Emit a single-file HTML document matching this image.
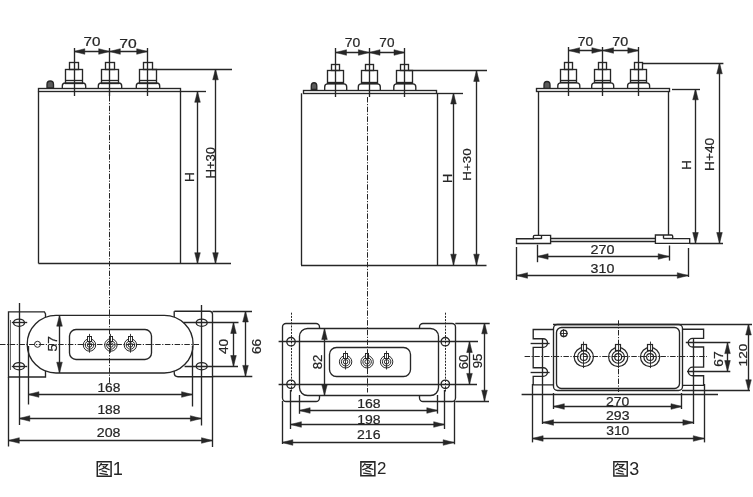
<!DOCTYPE html>
<html><head><meta charset="utf-8"><style>
html,body{margin:0;padding:0;background:#fff;}
svg{display:block;font-family:"Liberation Sans",sans-serif;filter:grayscale(100%);}
text{stroke:#262626;stroke-width:0.22px;} text.big{stroke-width:0;}
</style></head><body>
<svg width="753" height="497" viewBox="0 0 753 497">
<rect width="753" height="497" fill="#fff"/>
<rect x="38.5" y="88.5" width="142" height="3" fill="none" stroke="#262626" stroke-width="1.35"/>
<line x1="38.5" y1="91.6" x2="38.5" y2="263.5" stroke="#262626" stroke-width="1.35"/>
<line x1="180.5" y1="91.6" x2="180.5" y2="263.5" stroke="#262626" stroke-width="1.35"/>
<line x1="38.5" y1="263.5" x2="231" y2="263.5" stroke="#262626" stroke-width="1.35"/>
<rect x="69.5" y="62.5" width="9" height="7" fill="none" stroke="#262626" stroke-width="1.35"/>
<rect x="65.5" y="69.5" width="17" height="14" fill="none" stroke="#262626" stroke-width="1.35"/>
<line x1="65.3" y1="80.5" x2="82.7" y2="80.5" stroke="#262626" stroke-width="1.35"/>
<path d="M62.3,88 L62.3,86 Q62.3,83 65.3,83 L82.7,83 Q85.7,83 85.7,86 L85.7,88" fill="none" stroke="#262626" stroke-width="1.35"/>
<rect x="105.5" y="62.5" width="9" height="7" fill="none" stroke="#262626" stroke-width="1.35"/>
<rect x="101.5" y="69.5" width="17" height="14" fill="none" stroke="#262626" stroke-width="1.35"/>
<line x1="101.3" y1="80.5" x2="118.7" y2="80.5" stroke="#262626" stroke-width="1.35"/>
<path d="M98.3,88 L98.3,86 Q98.3,83 101.3,83 L118.7,83 Q121.7,83 121.7,86 L121.7,88" fill="none" stroke="#262626" stroke-width="1.35"/>
<rect x="143.5" y="62.5" width="9" height="7" fill="none" stroke="#262626" stroke-width="1.35"/>
<rect x="139.5" y="69.5" width="17" height="14" fill="none" stroke="#262626" stroke-width="1.35"/>
<line x1="139.3" y1="80.5" x2="156.7" y2="80.5" stroke="#262626" stroke-width="1.35"/>
<path d="M136.3,88 L136.3,86 Q136.3,83 139.3,83 L156.7,83 Q159.7,83 159.7,86 L159.7,88" fill="none" stroke="#262626" stroke-width="1.35"/>
<path d="M47,88 L47,84.5 A3.25,3.5 0 0 1 53.5,84.5 L53.5,88 Z" fill="#5a5a5a" stroke="#262626" stroke-width="1.35"/>
<line x1="74.5" y1="48" x2="74.5" y2="96" stroke="#262626" stroke-width="1.35"/>
<line x1="109.5" y1="48" x2="109.5" y2="96" stroke="#262626" stroke-width="1.35"/>
<line x1="147.5" y1="48" x2="147.5" y2="96" stroke="#262626" stroke-width="1.35"/>
<line x1="74" y1="51.5" x2="147.5" y2="51.5" stroke="#262626" stroke-width="1.35"/>
<polygon points="74,51.5 84.8,48.7 84.8,54.3" fill="#262626" stroke="#262626" stroke-width="0.5"/>
<polygon points="109.5,51.5 98.7,48.7 98.7,54.3" fill="#262626" stroke="#262626" stroke-width="0.5"/>
<polygon points="109.5,51.5 120.3,48.7 120.3,54.3" fill="#262626" stroke="#262626" stroke-width="0.5"/>
<polygon points="147.5,51.5 136.7,48.7 136.7,54.3" fill="#262626" stroke="#262626" stroke-width="0.5"/>
<line x1="152.5" y1="69.5" x2="232" y2="69.5" stroke="#262626" stroke-width="1.35"/>
<line x1="180.5" y1="91.5" x2="206" y2="91.5" stroke="#262626" stroke-width="1.35"/>
<line x1="197.5" y1="91.5" x2="197.5" y2="263.5" stroke="#262626" stroke-width="1.35"/>
<polygon points="197.5,91.5 194.7,102.3 200.3,102.3" fill="#262626" stroke="#262626" stroke-width="0.5"/>
<polygon points="197.5,263.5 194.7,252.7 200.3,252.7" fill="#262626" stroke="#262626" stroke-width="0.5"/>
<line x1="215.5" y1="69" x2="215.5" y2="263.5" stroke="#262626" stroke-width="1.35"/>
<polygon points="215.5,69 212.7,79.8 218.3,79.8" fill="#262626" stroke="#262626" stroke-width="0.5"/>
<polygon points="215.5,263.5 212.7,252.7 218.3,252.7" fill="#262626" stroke="#262626" stroke-width="0.5"/>
<path d="M8.5,311.8 H44.4 L45.5,314 V377 H8.5 Z" fill="none" stroke="#262626" stroke-width="1.35"/>
<path d="M174.4,311.2 H209.5 Q212.5,311.2 212.5,314.2 V376.7 H178 Q174.2,376.7 174.2,372.5 V311.2" fill="none" stroke="#262626" stroke-width="1.35"/>
<path d="M56,315.4 H164.3 A28.8,28.8 0 0 1 164.3,373 H56 A28.8,28.8 0 0 1 56,315.4 Z" fill="#fff" stroke="#262626" stroke-width="1.35"/>
<rect x="69.5" y="329.5" width="82" height="30" rx="6.5" fill="none" stroke="#262626" stroke-width="1.35"/>
<circle cx="37.5" cy="344.3" r="3" fill="none" stroke="#262626" stroke-width="1.0"/>
<line x1="10.5" y1="320" x2="10.5" y2="370" stroke="#262626" stroke-width="0.7"/>
<circle cx="89.5" cy="345" r="6.2" fill="none" stroke="#262626" stroke-width="1.0"/>
<circle cx="89.5" cy="345" r="4.22" fill="none" stroke="#262626" stroke-width="1.0"/>
<circle cx="89.5" cy="345" r="2.23" fill="none" stroke="#262626" stroke-width="1.0"/>
<rect x="87.5" y="336.5" width="4" height="5" fill="#fff" stroke="#262626" stroke-width="1.0"/>
<line x1="89.5" y1="333.9" x2="89.5" y2="352.7" stroke="#262626" stroke-width="0.9"/>
<circle cx="110.9" cy="345" r="6.2" fill="none" stroke="#262626" stroke-width="1.0"/>
<circle cx="110.9" cy="345" r="4.22" fill="none" stroke="#262626" stroke-width="1.0"/>
<circle cx="110.9" cy="345" r="2.23" fill="none" stroke="#262626" stroke-width="1.0"/>
<rect x="109.5" y="336.5" width="3" height="5" fill="#fff" stroke="#262626" stroke-width="1.0"/>
<line x1="110.5" y1="333.9" x2="110.5" y2="352.7" stroke="#262626" stroke-width="0.9"/>
<circle cx="130.4" cy="345" r="6.2" fill="none" stroke="#262626" stroke-width="1.0"/>
<circle cx="130.4" cy="345" r="4.22" fill="none" stroke="#262626" stroke-width="1.0"/>
<circle cx="130.4" cy="345" r="2.23" fill="none" stroke="#262626" stroke-width="1.0"/>
<rect x="128.5" y="336.5" width="4" height="5" fill="#fff" stroke="#262626" stroke-width="1.0"/>
<line x1="130.5" y1="333.9" x2="130.5" y2="352.7" stroke="#262626" stroke-width="0.9"/>
<ellipse cx="19" cy="322.7" rx="5.5" ry="3.6" fill="none" stroke="#262626" stroke-width="1.35"/>
<ellipse cx="19" cy="366.2" rx="5.5" ry="3.6" fill="none" stroke="#262626" stroke-width="1.35"/>
<ellipse cx="201.7" cy="322.7" rx="5.5" ry="3.6" fill="none" stroke="#262626" stroke-width="1.35"/>
<ellipse cx="201.7" cy="366.2" rx="5.5" ry="3.6" fill="none" stroke="#262626" stroke-width="1.35"/>
<line x1="19.5" y1="303" x2="19.5" y2="425" stroke="#262626" stroke-width="1.35"/>
<line x1="201.5" y1="305" x2="201.5" y2="425.5" stroke="#262626" stroke-width="1.35"/>
<line x1="11.8" y1="322.5" x2="27.2" y2="322.5" stroke="#262626" stroke-width="1.35"/>
<line x1="11.8" y1="366.5" x2="27.2" y2="366.5" stroke="#262626" stroke-width="1.35"/>
<line x1="183.5" y1="322.5" x2="238.5" y2="322.5" stroke="#262626" stroke-width="1.35"/>
<line x1="184.6" y1="366.5" x2="238" y2="366.5" stroke="#262626" stroke-width="1.35"/>
<line x1="59.5" y1="315.4" x2="59.5" y2="373" stroke="#262626" stroke-width="1.35"/>
<polygon points="59.5,315.4 56.7,326.2 62.3,326.2" fill="#262626" stroke="#262626" stroke-width="0.5"/>
<polygon points="59.5,373 56.7,362.2 62.3,362.2" fill="#262626" stroke="#262626" stroke-width="0.5"/>
<line x1="233.5" y1="322.7" x2="233.5" y2="366.3" stroke="#262626" stroke-width="1.35"/>
<polygon points="233.5,322.7 230.7,333.5 236.3,333.5" fill="#262626" stroke="#262626" stroke-width="0.5"/>
<polygon points="233.5,366.3 230.7,355.5 236.3,355.5" fill="#262626" stroke="#262626" stroke-width="0.5"/>
<line x1="212.5" y1="311.5" x2="252" y2="311.5" stroke="#262626" stroke-width="1.35"/>
<line x1="212.5" y1="376.5" x2="252.3" y2="376.5" stroke="#262626" stroke-width="1.35"/>
<line x1="245.5" y1="311.2" x2="245.5" y2="376.2" stroke="#262626" stroke-width="1.35"/>
<polygon points="245.5,311.2 242.7,322 248.3,322" fill="#262626" stroke="#262626" stroke-width="0.5"/>
<polygon points="245.5,376.2 242.7,365.4 248.3,365.4" fill="#262626" stroke="#262626" stroke-width="0.5"/>
<line x1="28.5" y1="346" x2="28.5" y2="404.5" stroke="#262626" stroke-width="1.35"/>
<line x1="192.5" y1="346" x2="192.5" y2="406.5" stroke="#262626" stroke-width="1.35"/>
<line x1="28.1" y1="394.5" x2="192.4" y2="394.5" stroke="#262626" stroke-width="1.35"/>
<polygon points="28.1,394.5 38.9,391.7 38.9,397.3" fill="#262626" stroke="#262626" stroke-width="0.5"/>
<polygon points="192.4,394.5 181.6,391.7 181.6,397.3" fill="#262626" stroke="#262626" stroke-width="0.5"/>
<line x1="8.5" y1="377" x2="8.5" y2="446.5" stroke="#262626" stroke-width="1.35"/>
<line x1="212.5" y1="376.2" x2="212.5" y2="447" stroke="#262626" stroke-width="1.35"/>
<line x1="19" y1="418.5" x2="201.2" y2="418.5" stroke="#262626" stroke-width="1.35"/>
<polygon points="19,418.5 29.8,415.7 29.8,421.3" fill="#262626" stroke="#262626" stroke-width="0.5"/>
<polygon points="201.2,418.5 190.4,415.7 190.4,421.3" fill="#262626" stroke="#262626" stroke-width="0.5"/>
<line x1="8.5" y1="440.5" x2="212.3" y2="440.5" stroke="#262626" stroke-width="1.35"/>
<polygon points="8.5,440.5 19.3,437.7 19.3,443.3" fill="#262626" stroke="#262626" stroke-width="0.5"/>
<polygon points="212.3,440.5 201.5,437.7 201.5,443.3" fill="#262626" stroke="#262626" stroke-width="0.5"/>
<line x1="109.5" y1="96" x2="109.5" y2="383" stroke="#262626" stroke-width="1.0" stroke-dasharray="5.5,1.5,1.2,1.5"/>
<line x1="0" y1="344.5" x2="199" y2="344.5" stroke="#262626" stroke-width="1.0" stroke-dasharray="5.5,1.5,1.2,1.5"/>
<g transform="translate(96.5,460.9) scale(0.96,1.01)" fill="none" stroke="#262626" stroke-width="1.55" stroke-linecap="round"><path d="M0.8,0.8 H15.2 V15.2 H0.8 Z" stroke-linecap="butt"/><path d="M5.0,2.6 L2.6,5.6" stroke-width="1.3"/><path d="M4.8,3.6 H11.4 Q8.8,7.4 2.8,8.8" stroke-width="1.3"/><path d="M7.0,5.6 Q9.6,7.8 13.2,8.6" stroke-width="1.3"/><path d="M5.8,9.9 L10.4,10.9" stroke-width="1.3"/><path d="M3.6,12.4 L11.4,13.5" stroke-width="1.3"/></g>
<rect x="303.5" y="90.5" width="133" height="3" fill="none" stroke="#262626" stroke-width="1.35"/>
<line x1="301.5" y1="93.3" x2="301.5" y2="265" stroke="#262626" stroke-width="1.35"/>
<line x1="437.5" y1="93.3" x2="437.5" y2="265" stroke="#262626" stroke-width="1.35"/>
<line x1="301" y1="265.5" x2="486.5" y2="265.5" stroke="#262626" stroke-width="1.35"/>
<rect x="331.5" y="64.5" width="8" height="6" fill="none" stroke="#262626" stroke-width="1.35"/>
<rect x="327.5" y="70.5" width="16" height="13" fill="none" stroke="#262626" stroke-width="1.35"/>
<line x1="327.7" y1="82.5" x2="343.7" y2="82.5" stroke="#262626" stroke-width="1.35"/>
<path d="M324.7,90.1 L324.7,86.9 Q324.7,83.9 327.7,83.9 L343.7,83.9 Q346.7,83.9 346.7,86.9 L346.7,90.1" fill="none" stroke="#262626" stroke-width="1.35"/>
<rect x="365.5" y="64.5" width="8" height="6" fill="none" stroke="#262626" stroke-width="1.35"/>
<rect x="361.5" y="70.5" width="16" height="13" fill="none" stroke="#262626" stroke-width="1.35"/>
<line x1="361.3" y1="82.5" x2="377.3" y2="82.5" stroke="#262626" stroke-width="1.35"/>
<path d="M358.3,90.1 L358.3,86.9 Q358.3,83.9 361.3,83.9 L377.3,83.9 Q380.3,83.9 380.3,86.9 L380.3,90.1" fill="none" stroke="#262626" stroke-width="1.35"/>
<rect x="400.5" y="64.5" width="8" height="6" fill="none" stroke="#262626" stroke-width="1.35"/>
<rect x="396.5" y="70.5" width="16" height="13" fill="none" stroke="#262626" stroke-width="1.35"/>
<line x1="396.8" y1="82.5" x2="412.8" y2="82.5" stroke="#262626" stroke-width="1.35"/>
<path d="M393.8,90.1 L393.8,86.9 Q393.8,83.9 396.8,83.9 L412.8,83.9 Q415.8,83.9 415.8,86.9 L415.8,90.1" fill="none" stroke="#262626" stroke-width="1.35"/>
<path d="M311.3,89.5 L311.3,86.1 A2.75,3.4 0 0 1 316.8,86.1 L316.8,89.5 Z" fill="#5a5a5a" stroke="#262626" stroke-width="1.35"/>
<line x1="335.5" y1="48" x2="335.5" y2="97" stroke="#262626" stroke-width="1.35"/>
<line x1="369.5" y1="48" x2="369.5" y2="97" stroke="#262626" stroke-width="1.35"/>
<line x1="404.5" y1="48" x2="404.5" y2="97" stroke="#262626" stroke-width="1.35"/>
<line x1="335.7" y1="52.5" x2="404.8" y2="52.5" stroke="#262626" stroke-width="1.35"/>
<polygon points="335.7,52.5 346.5,49.7 346.5,55.3" fill="#262626" stroke="#262626" stroke-width="0.5"/>
<polygon points="369.2,52.5 358.4,49.7 358.4,55.3" fill="#262626" stroke="#262626" stroke-width="0.5"/>
<polygon points="369.2,52.5 380,49.7 380,55.3" fill="#262626" stroke="#262626" stroke-width="0.5"/>
<polygon points="404.8,52.5 394,49.7 394,55.3" fill="#262626" stroke="#262626" stroke-width="0.5"/>
<line x1="408.8" y1="70.5" x2="487" y2="70.5" stroke="#262626" stroke-width="1.35"/>
<line x1="437" y1="93.5" x2="463" y2="93.5" stroke="#262626" stroke-width="1.35"/>
<line x1="453.5" y1="93.2" x2="453.5" y2="265" stroke="#262626" stroke-width="1.35"/>
<polygon points="453.5,93.2 450.7,104 456.3,104" fill="#262626" stroke="#262626" stroke-width="0.5"/>
<polygon points="453.5,265 450.7,254.2 456.3,254.2" fill="#262626" stroke="#262626" stroke-width="0.5"/>
<line x1="476.5" y1="70.6" x2="476.5" y2="265" stroke="#262626" stroke-width="1.35"/>
<polygon points="476.5,70.6 473.7,81.4 479.3,81.4" fill="#262626" stroke="#262626" stroke-width="0.5"/>
<polygon points="476.5,265 473.7,254.2 479.3,254.2" fill="#262626" stroke="#262626" stroke-width="0.5"/>
<rect x="282.5" y="323.5" width="37" height="78" rx="3.5" fill="#fff" stroke="#262626" stroke-width="1.35"/>
<rect x="419.5" y="323.5" width="36" height="78" rx="3.5" fill="#fff" stroke="#262626" stroke-width="1.35"/>
<rect x="299.5" y="328.5" width="139" height="67" rx="8" fill="#fff" stroke="#262626" stroke-width="1.35"/>
<rect x="329.5" y="347.5" width="81" height="29" rx="7" fill="none" stroke="#262626" stroke-width="1.35"/>
<circle cx="345.6" cy="361.8" r="6.2" fill="none" stroke="#262626" stroke-width="1.0"/>
<circle cx="345.6" cy="361.8" r="4.22" fill="none" stroke="#262626" stroke-width="1.0"/>
<circle cx="345.6" cy="361.8" r="2.23" fill="none" stroke="#262626" stroke-width="1.0"/>
<rect x="343.5" y="353.5" width="4" height="5" fill="#fff" stroke="#262626" stroke-width="1.0"/>
<line x1="345.5" y1="350.9" x2="345.5" y2="369.5" stroke="#262626" stroke-width="0.9"/>
<circle cx="367.1" cy="361.8" r="6.2" fill="none" stroke="#262626" stroke-width="1.0"/>
<circle cx="367.1" cy="361.8" r="4.22" fill="none" stroke="#262626" stroke-width="1.0"/>
<circle cx="367.1" cy="361.8" r="2.23" fill="none" stroke="#262626" stroke-width="1.0"/>
<rect x="365.5" y="353.5" width="3" height="5" fill="#fff" stroke="#262626" stroke-width="1.0"/>
<line x1="367.5" y1="350.9" x2="367.5" y2="369.5" stroke="#262626" stroke-width="0.9"/>
<circle cx="386.6" cy="361.8" r="6.2" fill="none" stroke="#262626" stroke-width="1.0"/>
<circle cx="386.6" cy="361.8" r="4.22" fill="none" stroke="#262626" stroke-width="1.0"/>
<circle cx="386.6" cy="361.8" r="2.23" fill="none" stroke="#262626" stroke-width="1.0"/>
<rect x="384.5" y="353.5" width="4" height="5" fill="#fff" stroke="#262626" stroke-width="1.0"/>
<line x1="386.5" y1="350.9" x2="386.5" y2="369.5" stroke="#262626" stroke-width="0.9"/>
<circle cx="291" cy="341.7" r="4.2" fill="none" stroke="#262626" stroke-width="1.35"/>
<circle cx="291" cy="384.3" r="4.2" fill="none" stroke="#262626" stroke-width="1.35"/>
<circle cx="445.3" cy="341.7" r="4.2" fill="none" stroke="#262626" stroke-width="1.35"/>
<circle cx="445.3" cy="384.3" r="4.2" fill="none" stroke="#262626" stroke-width="1.35"/>
<line x1="278.6" y1="341.5" x2="478" y2="341.5" stroke="#262626" stroke-width="1.35"/>
<line x1="278.6" y1="384.5" x2="477" y2="384.5" stroke="#262626" stroke-width="1.35"/>
<line x1="291.5" y1="312.7" x2="291.5" y2="392" stroke="#262626" stroke-width="1.0" stroke-dasharray="2,1.2"/>
<line x1="445.5" y1="312.7" x2="445.5" y2="392" stroke="#262626" stroke-width="1.0" stroke-dasharray="2,1.2"/>
<line x1="324.5" y1="328.7" x2="324.5" y2="395.3" stroke="#262626" stroke-width="1.35"/>
<polygon points="324.5,328.7 321.7,339.5 327.3,339.5" fill="#262626" stroke="#262626" stroke-width="0.5"/>
<polygon points="324.5,395.3 321.7,384.5 327.3,384.5" fill="#262626" stroke="#262626" stroke-width="0.5"/>
<line x1="469.5" y1="341.7" x2="469.5" y2="384.2" stroke="#262626" stroke-width="1.35"/>
<polygon points="469.5,341.7 466.7,352.5 472.3,352.5" fill="#262626" stroke="#262626" stroke-width="0.5"/>
<polygon points="469.5,384.2 466.7,373.4 472.3,373.4" fill="#262626" stroke="#262626" stroke-width="0.5"/>
<line x1="455.3" y1="323.5" x2="489.7" y2="323.5" stroke="#262626" stroke-width="1.35"/>
<line x1="455.3" y1="401.5" x2="489" y2="401.5" stroke="#262626" stroke-width="1.35"/>
<line x1="484.5" y1="323" x2="484.5" y2="401" stroke="#262626" stroke-width="1.35"/>
<polygon points="484.5,323 481.7,333.8 487.3,333.8" fill="#262626" stroke="#262626" stroke-width="0.5"/>
<polygon points="484.5,401 481.7,390.2 487.3,390.2" fill="#262626" stroke="#262626" stroke-width="0.5"/>
<line x1="299.5" y1="395" x2="299.5" y2="413.8" stroke="#262626" stroke-width="1.35"/>
<line x1="437.5" y1="395" x2="437.5" y2="413.6" stroke="#262626" stroke-width="1.35"/>
<line x1="299.3" y1="410.5" x2="437.6" y2="410.5" stroke="#262626" stroke-width="1.35"/>
<polygon points="299.3,410.5 310.1,407.7 310.1,413.3" fill="#262626" stroke="#262626" stroke-width="0.5"/>
<polygon points="437.6,410.5 426.8,407.7 426.8,413.3" fill="#262626" stroke="#262626" stroke-width="0.5"/>
<line x1="290.5" y1="390" x2="290.5" y2="429" stroke="#262626" stroke-width="1.35"/>
<line x1="444.5" y1="390" x2="444.5" y2="429" stroke="#262626" stroke-width="1.35"/>
<line x1="290.6" y1="424.5" x2="444.5" y2="424.5" stroke="#262626" stroke-width="1.35"/>
<polygon points="290.6,424.5 301.4,421.7 301.4,427.3" fill="#262626" stroke="#262626" stroke-width="0.5"/>
<polygon points="444.5,424.5 433.7,421.7 433.7,427.3" fill="#262626" stroke="#262626" stroke-width="0.5"/>
<line x1="282.5" y1="401" x2="282.5" y2="444" stroke="#262626" stroke-width="1.35"/>
<line x1="454.5" y1="401" x2="454.5" y2="444.3" stroke="#262626" stroke-width="1.35"/>
<line x1="282" y1="442.5" x2="454" y2="442.5" stroke="#262626" stroke-width="1.35"/>
<polygon points="282,442.5 292.8,439.7 292.8,445.3" fill="#262626" stroke="#262626" stroke-width="0.5"/>
<polygon points="454,442.5 443.2,439.7 443.2,445.3" fill="#262626" stroke="#262626" stroke-width="0.5"/>
<line x1="367.5" y1="97" x2="367.5" y2="392.5" stroke="#262626" stroke-width="1.0" stroke-dasharray="5.5,1.5,1.2,1.5"/>
<g transform="translate(360.1,461.1) scale(0.97,0.97)" fill="none" stroke="#262626" stroke-width="1.55" stroke-linecap="round"><path d="M0.8,0.8 H15.2 V15.2 H0.8 Z" stroke-linecap="butt"/><path d="M5.0,2.6 L2.6,5.6" stroke-width="1.3"/><path d="M4.8,3.6 H11.4 Q8.8,7.4 2.8,8.8" stroke-width="1.3"/><path d="M7.0,5.6 Q9.6,7.8 13.2,8.6" stroke-width="1.3"/><path d="M5.8,9.9 L10.4,10.9" stroke-width="1.3"/><path d="M3.6,12.4 L11.4,13.5" stroke-width="1.3"/></g>
<rect x="536.5" y="88.5" width="133" height="3" fill="none" stroke="#262626" stroke-width="1.35"/>
<line x1="538.5" y1="91.6" x2="538.5" y2="235.5" stroke="#262626" stroke-width="1.35"/>
<line x1="668.5" y1="91.6" x2="668.5" y2="235.5" stroke="#262626" stroke-width="1.35"/>
<rect x="564.5" y="62.5" width="8" height="7" fill="none" stroke="#262626" stroke-width="1.35"/>
<rect x="560.5" y="69.5" width="16" height="13" fill="none" stroke="#262626" stroke-width="1.35"/>
<line x1="560.8" y1="80.5" x2="576.8" y2="80.5" stroke="#262626" stroke-width="1.35"/>
<path d="M557.8,88.4 L557.8,85.8 Q557.8,82.8 560.8,82.8 L576.8,82.8 Q579.8,82.8 579.8,85.8 L579.8,88.4" fill="none" stroke="#262626" stroke-width="1.35"/>
<rect x="598.5" y="62.5" width="8" height="7" fill="none" stroke="#262626" stroke-width="1.35"/>
<rect x="594.5" y="69.5" width="16" height="13" fill="none" stroke="#262626" stroke-width="1.35"/>
<line x1="594.7" y1="80.5" x2="610.7" y2="80.5" stroke="#262626" stroke-width="1.35"/>
<path d="M591.7,88.4 L591.7,85.8 Q591.7,82.8 594.7,82.8 L610.7,82.8 Q613.7,82.8 613.7,85.8 L613.7,88.4" fill="none" stroke="#262626" stroke-width="1.35"/>
<rect x="634.5" y="62.5" width="8" height="7" fill="none" stroke="#262626" stroke-width="1.35"/>
<rect x="630.5" y="69.5" width="16" height="13" fill="none" stroke="#262626" stroke-width="1.35"/>
<line x1="630.6" y1="80.5" x2="646.6" y2="80.5" stroke="#262626" stroke-width="1.35"/>
<path d="M627.6,88.4 L627.6,85.8 Q627.6,82.8 630.6,82.8 L646.6,82.8 Q649.6,82.8 649.6,85.8 L649.6,88.4" fill="none" stroke="#262626" stroke-width="1.35"/>
<path d="M544,88.3 L544,84.9 A3,3.4 0 0 1 550,84.9 L550,88.3 Z" fill="#5a5a5a" stroke="#262626" stroke-width="1.35"/>
<line x1="568.5" y1="47" x2="568.5" y2="96" stroke="#262626" stroke-width="1.35"/>
<line x1="602.5" y1="47" x2="602.5" y2="96" stroke="#262626" stroke-width="1.35"/>
<line x1="638.5" y1="47" x2="638.5" y2="96" stroke="#262626" stroke-width="1.35"/>
<line x1="568.8" y1="50.5" x2="638.6" y2="50.5" stroke="#262626" stroke-width="1.35"/>
<polygon points="568.8,50.5 579.6,47.7 579.6,53.3" fill="#262626" stroke="#262626" stroke-width="0.5"/>
<polygon points="602.7,50.5 591.9,47.7 591.9,53.3" fill="#262626" stroke="#262626" stroke-width="0.5"/>
<polygon points="602.7,50.5 613.5,47.7 613.5,53.3" fill="#262626" stroke="#262626" stroke-width="0.5"/>
<polygon points="638.6,50.5 627.8,47.7 627.8,53.3" fill="#262626" stroke="#262626" stroke-width="0.5"/>
<line x1="642.6" y1="63.5" x2="723.4" y2="63.5" stroke="#262626" stroke-width="1.35"/>
<line x1="672" y1="89.5" x2="700" y2="89.5" stroke="#262626" stroke-width="1.35"/>
<line x1="695.5" y1="89" x2="695.5" y2="243.3" stroke="#262626" stroke-width="1.35"/>
<polygon points="695.5,89 692.7,99.8 698.3,99.8" fill="#262626" stroke="#262626" stroke-width="0.5"/>
<polygon points="695.5,243.3 692.7,232.5 698.3,232.5" fill="#262626" stroke="#262626" stroke-width="0.5"/>
<line x1="719.5" y1="63" x2="719.5" y2="243.3" stroke="#262626" stroke-width="1.35"/>
<polygon points="719.5,63 716.7,73.8 722.3,73.8" fill="#262626" stroke="#262626" stroke-width="0.5"/>
<polygon points="719.5,243.3 716.7,232.5 722.3,232.5" fill="#262626" stroke="#262626" stroke-width="0.5"/>
<line x1="689.7" y1="243.5" x2="723" y2="243.5" stroke="#262626" stroke-width="1.35"/>
<path d="M516.5,238.7 H533.4 V236.6 Q533.4,235.4 534.6,235.4 H550.6 V243.5 H516.5 Z" fill="#fff" stroke="#262626" stroke-width="1.35"/>
<line x1="533.4" y1="238.5" x2="541.8" y2="238.5" stroke="#262626" stroke-width="1.35"/>
<line x1="541.5" y1="235.4" x2="541.5" y2="238.9" stroke="#262626" stroke-width="1.35"/>
<path d="M655.4,235 H671.5 Q672.7,235 672.7,236.2 V238.6 H689.7 V243.3 H655.4 Z" fill="#fff" stroke="#262626" stroke-width="1.35"/>
<line x1="663.5" y1="238.5" x2="672.7" y2="238.5" stroke="#262626" stroke-width="1.35"/>
<line x1="663.5" y1="235" x2="663.5" y2="238.6" stroke="#262626" stroke-width="1.35"/>
<line x1="550.6" y1="238.5" x2="655.4" y2="238.5" stroke="#262626" stroke-width="1.35"/>
<line x1="550.6" y1="241.5" x2="655.4" y2="241.5" stroke="#262626" stroke-width="1.35"/>
<line x1="537.5" y1="244.7" x2="537.5" y2="262.2" stroke="#262626" stroke-width="1.35"/>
<line x1="669.5" y1="245.5" x2="669.5" y2="260.6" stroke="#262626" stroke-width="1.35"/>
<line x1="537.3" y1="256.5" x2="669" y2="256.5" stroke="#262626" stroke-width="1.35"/>
<polygon points="537.3,256.5 548.1,253.7 548.1,259.3" fill="#262626" stroke="#262626" stroke-width="0.5"/>
<polygon points="669,256.5 658.2,253.7 658.2,259.3" fill="#262626" stroke="#262626" stroke-width="0.5"/>
<line x1="516.5" y1="247" x2="516.5" y2="280" stroke="#262626" stroke-width="1.35"/>
<line x1="688.5" y1="248" x2="688.5" y2="277" stroke="#262626" stroke-width="1.35"/>
<line x1="516.7" y1="275.5" x2="688.1" y2="275.5" stroke="#262626" stroke-width="1.35"/>
<polygon points="516.7,275.5 527.5,272.7 527.5,278.3" fill="#262626" stroke="#262626" stroke-width="0.5"/>
<polygon points="688.1,275.5 677.3,272.7 677.3,278.3" fill="#262626" stroke="#262626" stroke-width="0.5"/>
<path d="M553.1,329.5 H533.2 V338.7 H543.2 A4.3,4.3 0 0 1 543.2,347.3 H533.2 V367.7 H543.2 A4.3,4.3 0 0 1 543.2,376.3 H533.2 V384.8 H553.1" fill="none" stroke="#262626" stroke-width="1.35"/>
<path d="M682,329.2 H703.6 V338.4 H692.6 A4.3,4.3 0 0 0 692.6,347 H703.6 V367.1 H692.6 A4.3,4.3 0 0 0 692.6,375.7 H703.6 V385.3 H682" fill="none" stroke="#262626" stroke-width="1.35"/>
<rect x="553.5" y="324.5" width="129" height="66" rx="4" fill="#fff" stroke="#262626" stroke-width="1.35"/>
<rect x="556.5" y="327.5" width="123" height="61" rx="5" fill="none" stroke="#262626" stroke-width="1.35"/>
<line x1="530.6" y1="343.5" x2="549.6" y2="343.5" stroke="#262626" stroke-width="1.35"/>
<line x1="530.6" y1="372.5" x2="549.6" y2="372.5" stroke="#262626" stroke-width="1.35"/>
<line x1="685.8" y1="342.5" x2="730.3" y2="342.5" stroke="#262626" stroke-width="1.35"/>
<line x1="687" y1="371.5" x2="730.3" y2="371.5" stroke="#262626" stroke-width="1.35"/>
<line x1="542.5" y1="339" x2="542.5" y2="424" stroke="#262626" stroke-width="1.35"/>
<line x1="693.5" y1="338.8" x2="693.5" y2="424" stroke="#262626" stroke-width="1.35"/>
<line x1="524.6" y1="356.5" x2="707" y2="356.5" stroke="#262626" stroke-width="1.0" stroke-dasharray="5.5,1.5,1.2,1.5"/>
<line x1="618.5" y1="320.3" x2="618.5" y2="392" stroke="#262626" stroke-width="1.0" stroke-dasharray="5.5,1.5,1.2,1.5"/>
<circle cx="563.8" cy="333.3" r="3.2" fill="none" stroke="#262626" stroke-width="1.35"/>
<line x1="559.8" y1="333.5" x2="567.8" y2="333.5" stroke="#262626" stroke-width="0.9"/>
<line x1="563.5" y1="329.3" x2="563.5" y2="337.3" stroke="#262626" stroke-width="0.9"/>
<circle cx="583.8" cy="357" r="9.6" fill="none" stroke="#262626" stroke-width="1.2"/>
<circle cx="583.8" cy="357" r="6.24" fill="none" stroke="#262626" stroke-width="1.2"/>
<circle cx="583.8" cy="357" r="3.46" fill="none" stroke="#262626" stroke-width="1.2"/>
<rect x="581.5" y="344.5" width="5" height="6" fill="#fff" stroke="#262626" stroke-width="1.2"/>
<line x1="583.5" y1="341.6" x2="583.5" y2="368.1" stroke="#262626" stroke-width="0.9"/>
<circle cx="618.2" cy="357" r="9.6" fill="none" stroke="#262626" stroke-width="1.2"/>
<circle cx="618.2" cy="357" r="6.24" fill="none" stroke="#262626" stroke-width="1.2"/>
<circle cx="618.2" cy="357" r="3.46" fill="none" stroke="#262626" stroke-width="1.2"/>
<rect x="615.5" y="344.5" width="5" height="6" fill="#fff" stroke="#262626" stroke-width="1.2"/>
<line x1="618.5" y1="341.6" x2="618.5" y2="368.1" stroke="#262626" stroke-width="0.9"/>
<circle cx="650.1" cy="357" r="9.6" fill="none" stroke="#262626" stroke-width="1.2"/>
<circle cx="650.1" cy="357" r="6.24" fill="none" stroke="#262626" stroke-width="1.2"/>
<circle cx="650.1" cy="357" r="3.46" fill="none" stroke="#262626" stroke-width="1.2"/>
<rect x="647.5" y="344.5" width="5" height="6" fill="#fff" stroke="#262626" stroke-width="1.2"/>
<line x1="650.5" y1="341.6" x2="650.5" y2="368.1" stroke="#262626" stroke-width="0.9"/>
<line x1="553" y1="324.5" x2="752" y2="324.5" stroke="#262626" stroke-width="1.35"/>
<line x1="521.6" y1="394.5" x2="718" y2="394.5" stroke="#262626" stroke-width="1.35"/>
<line x1="682" y1="390.5" x2="750" y2="390.5" stroke="#262626" stroke-width="1.35"/>
<line x1="748.5" y1="324.2" x2="748.5" y2="390.6" stroke="#262626" stroke-width="1.35"/>
<polygon points="748.5,324.2 745.7,335 751.3,335" fill="#262626" stroke="#262626" stroke-width="0.5"/>
<polygon points="748.5,390.6 745.7,379.8 751.3,379.8" fill="#262626" stroke="#262626" stroke-width="0.5"/>
<line x1="727.5" y1="342.8" x2="727.5" y2="371.3" stroke="#262626" stroke-width="1.35"/>
<polygon points="727.5,342.8 724.7,353.6 730.3,353.6" fill="#262626" stroke="#262626" stroke-width="0.5"/>
<polygon points="727.5,371.3 724.7,360.5 730.3,360.5" fill="#262626" stroke="#262626" stroke-width="0.5"/>
<line x1="553.5" y1="393" x2="553.5" y2="409" stroke="#262626" stroke-width="1.35"/>
<line x1="681.5" y1="393" x2="681.5" y2="409" stroke="#262626" stroke-width="1.35"/>
<line x1="553.5" y1="406.5" x2="681.8" y2="406.5" stroke="#262626" stroke-width="1.35"/>
<polygon points="553.5,406.5 564.3,403.7 564.3,409.3" fill="#262626" stroke="#262626" stroke-width="0.5"/>
<polygon points="681.8,406.5 671,403.7 671,409.3" fill="#262626" stroke="#262626" stroke-width="0.5"/>
<line x1="532.5" y1="384" x2="532.5" y2="442.4" stroke="#262626" stroke-width="1.35"/>
<line x1="704.5" y1="384" x2="704.5" y2="442.4" stroke="#262626" stroke-width="1.35"/>
<line x1="542.7" y1="422.5" x2="693.7" y2="422.5" stroke="#262626" stroke-width="1.35"/>
<polygon points="542.7,422.5 553.5,419.7 553.5,425.3" fill="#262626" stroke="#262626" stroke-width="0.5"/>
<polygon points="693.7,422.5 682.9,419.7 682.9,425.3" fill="#262626" stroke="#262626" stroke-width="0.5"/>
<line x1="532.3" y1="438.5" x2="704.1" y2="438.5" stroke="#262626" stroke-width="1.35"/>
<polygon points="532.3,438.5 543.1,435.7 543.1,441.3" fill="#262626" stroke="#262626" stroke-width="0.5"/>
<polygon points="704.1,438.5 693.3,435.7 693.3,441.3" fill="#262626" stroke="#262626" stroke-width="0.5"/>
<g transform="translate(613.1,461) scale(0.93,0.98)" fill="none" stroke="#262626" stroke-width="1.55" stroke-linecap="round"><path d="M0.8,0.8 H15.2 V15.2 H0.8 Z" stroke-linecap="butt"/><path d="M5.0,2.6 L2.6,5.6" stroke-width="1.3"/><path d="M4.8,3.6 H11.4 Q8.8,7.4 2.8,8.8" stroke-width="1.3"/><path d="M7.0,5.6 Q9.6,7.8 13.2,8.6" stroke-width="1.3"/><path d="M5.8,9.9 L10.4,10.9" stroke-width="1.3"/><path d="M3.6,12.4 L11.4,13.5" stroke-width="1.3"/></g>
<text class="" transform="translate(83.47,46.42) scale(1.17,1)" font-size="12.99" fill="#262626">70</text>
<text class="" transform="translate(119.35,47.63) scale(1.26,1)" font-size="12.43" fill="#262626">70</text>
<text class="" transform="translate(97.4,391.82) scale(1.06,1)" font-size="12.99" fill="#262626">168</text>
<text class="" transform="translate(97.4,413.92) scale(1.04,1)" font-size="13.28" fill="#262626">188</text>
<text class="" transform="translate(96.73,436.63) scale(1.13,1)" font-size="12.57" fill="#262626">208</text>
<text class="" transform="translate(344.74,47.12) scale(1.05,1)" font-size="13.28" fill="#262626">70</text>
<text class="" transform="translate(379.35,47.12) scale(1.02,1)" font-size="13.28" fill="#262626">70</text>
<text class="" transform="translate(357.18,407.72) scale(1.09,1)" font-size="12.85" fill="#262626">168</text>
<text class="" transform="translate(357.18,423.73) scale(1.1,1)" font-size="12.71" fill="#262626">198</text>
<text class="" transform="translate(357.04,439.33) scale(1.11,1)" font-size="12.71" fill="#262626">216</text>
<text class="" transform="translate(577.74,46.33) scale(1.09,1)" font-size="12.71" fill="#262626">70</text>
<text class="" transform="translate(612.31,46.33) scale(1.13,1)" font-size="12.71" fill="#262626">70</text>
<text class="" transform="translate(590.43,254.22) scale(1.12,1)" font-size="12.85" fill="#262626">270</text>
<text class="" transform="translate(590.61,273.33) scale(1.12,1)" font-size="12.71" fill="#262626">310</text>
<text class="" transform="translate(606.05,406.22) scale(1.03,1)" font-size="13.56" fill="#262626">270</text>
<text class="" transform="translate(606.04,420.23) scale(1.17,1)" font-size="12.01" fill="#262626">293</text>
<text class="" transform="translate(606.22,435.33) scale(1.09,1)" font-size="12.71" fill="#262626">310</text>
<text transform="translate(193.85,182.05) rotate(-90) scale(1.02,1)" font-size="13.23" fill="#262626">H</text>
<text transform="translate(214.83,178.53) rotate(-90) scale(1.03,1)" font-size="12.71" fill="#262626">H+30</text>
<text transform="translate(56.93,351.39) rotate(-90) scale(1.13,1)" font-size="12.04" fill="#262626">57</text>
<text transform="translate(228.33,354.06) rotate(-90) scale(1.1,1)" font-size="12.43" fill="#262626">40</text>
<text transform="translate(260.53,354.05) rotate(-90) scale(1.11,1)" font-size="12.43" fill="#262626">66</text>
<text transform="translate(451.85,183.09) rotate(-90) scale(1.02,1)" font-size="12.5" fill="#262626">H</text>
<text transform="translate(470.84,180.65) rotate(-90) scale(1.18,1)" font-size="11.3" fill="#262626">H+30</text>
<text transform="translate(321.92,369.23) rotate(-90) scale(1.03,1)" font-size="12.85" fill="#262626">82</text>
<text transform="translate(468.32,369.32) rotate(-90) scale(1.01,1)" font-size="13.14" fill="#262626">60</text>
<text transform="translate(481.72,368.27) rotate(-90) scale(1.01,1)" font-size="13.14" fill="#262626">95</text>
<text transform="translate(690.85,169.72) rotate(-90) scale(0.98,1)" font-size="13.37" fill="#262626">H</text>
<text transform="translate(714.22,170.97) rotate(-90) scale(1.07,1)" font-size="12.85" fill="#262626">H+40</text>
<text transform="translate(746.84,366.39) rotate(-90) scale(1.22,1)" font-size="11.16" fill="#262626">120</text>
<text transform="translate(722.73,366.65) rotate(-90) scale(1.14,1)" font-size="12.15" fill="#262626">67</text>
<text class="big" transform="translate(112.8,474.75) scale(1,1)" font-size="18.17" fill="#262626">1</text>
<text class="big" transform="translate(376.95,474.45) scale(1,1)" font-size="16.9" fill="#262626">2</text>
<text class="big" transform="translate(629.26,474.77) scale(1,1)" font-size="17.94" fill="#262626">3</text>
</svg></body></html>
